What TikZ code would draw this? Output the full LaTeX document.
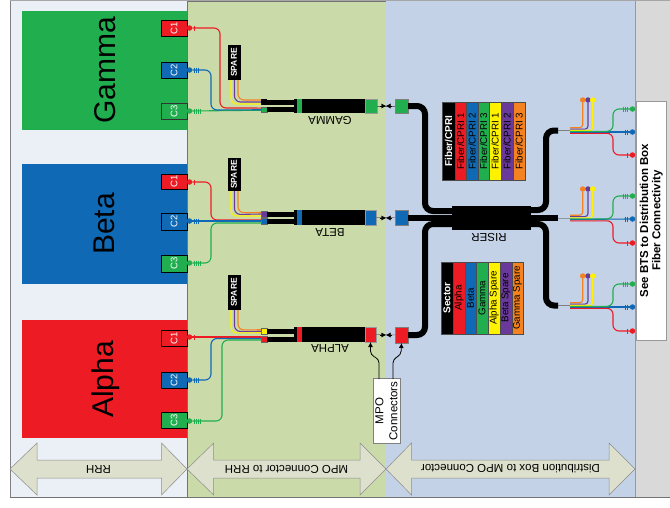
\documentclass[tikz,border=0pt]{standalone}
\usepackage{fontspec}
\setmainfont{Liberation Sans}
\usetikzlibrary{arrows.meta,calc}
\definecolor{fred}{HTML}{ED1C24}
\definecolor{fblue}{HTML}{0F69B4}
\definecolor{fgreen}{HTML}{21AE4F}
\definecolor{fyellow}{HTML}{FFF200}
\definecolor{fpurple}{HTML}{6A3A9A}
\definecolor{forange}{HTML}{F58220}
\definecolor{regA}{HTML}{EBEFF6}
\definecolor{regB}{HTML}{CBDAA9}
\definecolor{regC}{HTML}{C3D2E6}
\definecolor{regD}{HTML}{D9D9D9}
\definecolor{arrowfill}{HTML}{DDE0CC}
\newcommand\fsz[1]{\fontsize{#1}{#1}\selectfont}
\newcommand\bx[7]{% name x1 y1 x2 y2 style text
  \pgfmathsetmacro\mycx{(#2+#4)/2}\pgfmathsetmacro\mycy{(#3+#5)/2}%
  \pgfmathsetmacro\myww{#4-#2}\pgfmathsetmacro\myhh{#5-#3}%
  \node[inner sep=0pt,outer sep=0pt,minimum width=\myww pt,minimum height=\myhh pt,#6] (#1) at (\mycx,\mycy) {#7};}
\newcommand\lplug[4]{% name y colour n
  \foreach \k in {1,...,#4}{\draw[#3,line width=.8pt] ({192+2.2*\k},#2-2.5) -- ({192+2.2*\k},#2+2.5);}
  \node[dotn,fill=#3] (#1) at (189.5,#2) {};}
\newcommand\rplug[4]{%
  \foreach \k in {1,...,#4}{\draw[#3,line width=.8pt] ({630-2.2*\k},#2-2.5) -- ({630-2.2*\k},#2+2.5);}
  \node[dotn,fill=#3] (#1) at (632.5,#2) {};}
\newcommand\chip[6]{% name y1 y2 fill border text
  \bx{#1}{161}{#2}{187}{#3}{fill=#4,draw=#5,line width=1pt,text=white}{\rotatebox{90}{\fsz{9.5}#6}}}
\newcommand\spare[3]{\bx{#1}{227.5}{#2}{240.5}{#3}{fill=black,text=white}{\rotatebox{90}{\fsz{8.5}\bfseries SPARE}}}
\newcommand\fan[7]{% prefix conn-colour yc dots-y green-y blue-y red-y
  \node[dotn,fill=forange] (#1do) at (582.7,#4) {};
  \node[dotn,fill=fpurple] (#1dp) at (588,#4) {};
  \node[dotn,fill=fyellow] (#1dy) at (592.7,#4) {};
  \rplug{#1dg}{#5}{fgreen}{3}
  \rplug{#1db}{#6}{fblue}{2}
  \rplug{#1dr}{#7}{fred}{1}
  \bx{#1C}{558}{#3-3.7}{570}{#3+3.7}{fill=#2,draw=black!50,line width=.4pt}{}
  \draw[fib,forange,rounded corners=3pt] ([yshift=2.8pt]#1C.east) -| (#1do);
  \draw[fib,fpurple,rounded corners=3pt] ([yshift=1.4pt]#1C.east) -| (#1dp);
  \draw[fib,fyellow,rounded corners=3pt] ([yshift=0pt]#1C.east) -| (#1dy);
  \draw[fib,fblue] ([yshift=-1.5pt]#1C.east) -- (#1db.west |- {0,#6}) -- (#1db);
  \draw[fib,fgreen,rounded corners=6pt] ([yshift=-.8pt]#1C.east) -- (613,#3+.8) -- (613,#5) -- (#1dg);
  \draw[fib,fred,rounded corners=6pt] ([yshift=-2.8pt]#1C.east) -- (613,#3+2.8) -- (613,#7) -- (#1dr);}
\newcommand\dbl[7]{% name x1 x2 hx1 hx2 text
  \filldraw[fill=arrowfill,draw=black!45,line width=.5pt] (#2,469) -- (#4,443) -- (#4,460) -- (#5,460) -- (#5,443) -- (#3,469) -- (#5,495) -- (#5,478) -- (#4,478) -- (#4,495) -- cycle;
  \node[rotate=180,inner sep=0pt] (#1) at ({(#2+#3)/2},469) {\fsz{11.5}#6};}
\newcommand\legcol[6]{% name x1 x2 y1 y2 fill
  \bx{#1}{#2}{#4}{#3}{#5}{fill=#6,draw=black!70,line width=.6pt}{}}
\tikzset{
  dotn/.style={circle,inner sep=0pt,outer sep=0pt,minimum size=5.5pt},
  fib/.style={line width=1.1pt},
  rib/.style={line width=5pt,black},
  riserline/.style={line width=6pt,black,rounded corners=8pt},
  lbl/.style={rotate=180,inner sep=0pt},
  bigname/.style={rotate=90,anchor=base,inner sep=0pt,font=\fsz{30}},
  junct/.style={line width=.5pt,black!60},
  tipto/.style={-{Latex[length=4.5pt,width=5pt]},black},
}
\begin{document}
\begin{tikzpicture}[x=1pt,y=-1pt]
\useasboundingbox (0,0) rectangle (670,507);
\fill[white] (0,0) rectangle (670,507);
% regions
\bx{regrrh}{10}{1}{187}{497}{fill=regA}{}
\bx{regmpo}{187}{1}{386}{497}{fill=regB,draw=black!55,line width=.5pt}{}
\bx{regdist}{386}{1}{635}{497}{fill=regC}{}
\bx{regbts}{635}{1}{670}{497}{fill=regD}{}
\draw[black!55,line width=.7pt] (10,497) -- (670,497);
\draw[black!35,line width=.8pt] (10,.6) -- (670,.6);
\draw[black!50,line width=.6pt] (10,1) -- (10,497);
\draw[black!40,line width=.5pt] (635,1) -- (635,497);
% RRH blocks
\bx{gamma}{22}{10.5}{187}{129.5}{fill=fgreen}{}
\bx{beta}{22}{164}{187}{284}{fill=fblue}{}
\bx{alpha}{22}{320}{187}{438}{fill=fred}{}
\node[bigname] (gammaL) at (115,70) {Gamma};
\node[bigname] (betaL) at (114,224) {Beta};
\node[bigname] (alphaL) at (113.5,379.5) {Alpha};
\chip{gC1}{20}{36}{fred}{black}{C1}
\chip{gC2}{62}{78}{fblue}{black}{C2}
\chip{gC3}{103}{119}{fgreen}{black!80}{C3}
\chip{bC1}{174}{189}{fred}{black}{C1}
\chip{bC2}{213}{230}{fblue}{black}{C2}
\chip{bC3}{255}{272}{fgreen}{black}{C3}
\chip{aC1}{330}{346}{fred}{black}{C1}
\chip{aC2}{372}{388}{fblue}{black}{C2}
\chip{aC3}{412}{428}{fgreen}{black}{C3}
% spare boxes
\spare{gS}{45}{80}
\spare{bS}{158}{191}
\spare{aS}{275}{310}
% cable assemblies
\bx{gT}{261}{99}{267}{105}{fill=black}{}
\bx{gB}{261}{107}{267}{112.5}{fill=fgreen,draw=black!60,line width=.4pt}{}
\bx{gM}{294}{99}{377}{113}{fill=black}{}
\bx{gM1}{297}{99}{302}{113}{fill=fgreen}{}
\bx{gM2}{365}{99}{377}{113}{fill=fgreen,draw=black!40,line width=.4pt}{}
\node[lbl] (gL) at (330,120.5) {\fsz{11.5}GAMMA};
\bx{bT}{261}{211}{267}{217}{fill=fpurple,draw=black!60,line width=.4pt}{}
\bx{bB}{261}{218}{267}{224}{fill=fblue,draw=black!60,line width=.4pt}{}
\bx{bM}{294}{210}{376}{225}{fill=black}{}
\bx{bM1}{297}{210}{302}{225}{fill=fblue}{}
\bx{bM2}{365}{210}{376}{225}{fill=fblue,draw=black!40,line width=.4pt}{}
\node[lbl] (bL) at (330,232) {\fsz{11.5}BETA};
\bx{aT}{261}{328.5}{267}{334}{fill=fyellow,draw=black!60,line width=.4pt}{}
\bx{aB}{261}{336}{267}{342}{fill=fred,draw=black!60,line width=.4pt}{}
\bx{aM}{294}{327}{376}{342}{fill=black}{}
\bx{aM1}{297}{327}{302}{342}{fill=fred}{}
\bx{aM2}{365}{327}{376}{342}{fill=fred,draw=black!40,line width=.4pt}{}
\node[lbl] (aL) at (330,348.5) {\fsz{11.5}ALPHA};
\draw[rib] (gT.east) -- (gT.east -| gM.west);
\draw[rib] (gB.east) -- (gB.east -| gM.west);
\draw[rib] (bT.east) -- (bT.east -| bM.west);
\draw[rib] (bB.east) -- (bB.east -| bM.west);
\draw[rib] (aT.east) -- (aT.east -| aM.west);
\draw[rib] (aB.east) -- (aB.east -| aM.west);
% left plugs
\lplug{gd1}{28}{fred}{1}
\lplug{gd2}{70}{fblue}{3}
\lplug{gd3}{111}{fgreen}{4}
\lplug{bd1}{182}{fred}{1}
\lplug{bd2}{221}{fblue}{3}
\lplug{bd3}{263}{fgreen}{4}
\lplug{ad1}{337}{fred}{1}
\lplug{ad2}{380}{fblue}{3}
\lplug{ad3}{421}{fgreen}{4}
% gamma fibres
\draw[fib,fgreen] (gd3) -- ([yshift=-.5pt]gB.west);
\draw[fib,fblue,rounded corners=6pt] (gd2) -- (211,70) -- (211,110) -- ([yshift=0pt]gB.west);
\draw[fib,fred,rounded corners=6pt] (gd1) -- (220,28) -- (220,108) -- ([yshift=1.7pt]gB.west);
\draw[fib,fyellow,rounded corners=6pt] ([xshift=-3pt]gS.south) -- (231,104) -- ([yshift=-2pt]gT.west);
\draw[fib,fpurple,rounded corners=6pt] ([xshift=.5pt]gS.south) -- (234.5,102) -- (gT.west);
\draw[fib,forange,rounded corners=6pt] ([xshift=4pt]gS.south) -- (238,100) -- ([yshift=2pt]gT.west);
% beta fibres
\draw[fib,fred,rounded corners=6pt] (bd1) -- (211,182) -- (211,220) -- ([yshift=1pt]bB.west);
\draw[fib,fblue] (bd2) -- (bB.west);
\draw[fib,fgreen,rounded corners=6pt] (bd3) -- (211,263) -- (211,223) -- ([yshift=-2pt]bB.west);
\draw[fib,fyellow,rounded corners=6pt] ([xshift=-3pt]bS.south) -- (231,216) -- ([yshift=-2pt]bT.west);
\draw[fib,fpurple,rounded corners=6pt] ([xshift=.5pt]bS.south) -- (234.5,214.5) -- (bT.west);
\draw[fib,forange,rounded corners=6pt] ([xshift=4pt]bS.south) -- (238,212.7) -- ([yshift=1.5pt]bT.west);
% alpha fibres
\draw[fib,fred] (ad1) -- ([yshift=2pt]aB.west);
\draw[fib,fblue,rounded corners=6pt] (ad2) -- (211,380) -- (211,338.5) -- ([yshift=.5pt]aB.west);
\draw[fib,fgreen,rounded corners=6pt] (ad3) -- (222,421) -- (222,340) -- ([yshift=-1pt]aB.west);
\draw[fib,fyellow,rounded corners=6pt] ([xshift=-3pt]aS.south) -- (231,333) -- ([yshift=-1.5pt]aT.west);
\draw[fib,fpurple,rounded corners=6pt] ([xshift=.5pt]aS.south) -- (234.5,331.5) -- (aT.west);
\draw[fib,forange,rounded corners=6pt] ([xshift=4pt]aS.south) -- (238,330) -- ([yshift=1.5pt]aT.west);
% riser
\bx{riser}{452}{206}{531}{230}{fill=black}{}
\node[lbl] (riserL) at (489,237) {\fsz{11.5}RISER};
\bx{gR}{395}{99}{408}{113}{fill=fgreen,draw=black!50,line width=.4pt}{}
\bx{bR}{395}{210.5}{408}{225}{fill=fblue,draw=black!50,line width=.4pt}{}
\bx{aR}{395}{327}{408}{343}{fill=fred,draw=black!50,line width=.4pt}{}
\draw[riserline] (gR.east) -- (425,106) -- (425,211) -- (452,211);
\draw[riserline] (bR.east) -- (riser.west |- bR.east);
\draw[riserline] (aR.east) -- (425,335) -- (425,224) -- (452,224);
% junctions
\coordinate (gJ) at (386,106);
\coordinate (bJ) at (386,218);
\coordinate (aJ) at (386,335);
\draw[junct] (gM.east) -- (gR.west);
\draw[junct] (bM.east) -- (bR.west);
\draw[junct] (aM.east) -- (aR.west);
\draw[tipto] ([xshift=-6pt]gJ) -- (gJ);
\draw[tipto] ([xshift=6pt]gJ) -- (gJ);
\draw[tipto] ([xshift=-6pt]bJ) -- (bJ);
\draw[tipto] ([xshift=6pt]bJ) -- (bJ);
\draw[tipto] ([xshift=-6pt]aJ) -- (aJ);
\draw[tipto] ([xshift=6pt]aJ) -- (aJ);
% right fan-outs
\fan{gf}{fgreen}{130.5}{100}{109}{132}{155}
\fan{bf}{fblue}{218}{189}{196}{219}{243}
\fan{af}{fred}{305.5}{276}{284}{307}{331}
\draw[riserline] (gfC.west) -- (546,130.5) -- (546,210) -- (531,210);
\draw[riserline] (bfC.west) -- (riser.east |- bfC.west);
\draw[riserline] (afC.west) -- (546,305.5) -- (546,224) -- (531,224);
% legends
\legcol{la0}{442}{455}{102}{180}{black}
\legcol{la1}{455}{466}{102}{180}{fred}
\legcol{la2}{466}{478}{102}{180}{fblue}
\legcol{la3}{478}{489}{102}{180}{fgreen}
\legcol{la4}{489}{501}{102}{180}{fyellow}
\legcol{la5}{501}{513}{102}{180}{fpurple}
\legcol{la6}{513}{525}{102}{180}{forange}
\node[rotate=90,inner sep=0pt,text=white] (lat0) at (la0) {\fsz{10}\bfseries Fiber/CPRI};
\node[rotate=90,inner sep=0pt] (lat1) at (la1) {\fsz{9.8}Fiber/CPRI 1};
\node[rotate=90,inner sep=0pt] (lat2) at (la2) {\fsz{9.8}Fiber/CPRI 2};
\node[rotate=90,inner sep=0pt] (lat3) at (la3) {\fsz{9.8}Fiber/CPRI 3};
\node[rotate=90,inner sep=0pt] (lat4) at (la4) {\fsz{9.8}Fiber/CPRI 1};
\node[rotate=90,inner sep=0pt] (lat5) at (la5) {\fsz{9.8}Fiber/CPRI 2};
\node[rotate=90,inner sep=0pt] (lat6) at (la6) {\fsz{9.8}Fiber/CPRI 3};
\legcol{lb0}{441}{453}{262}{334}{black}
\legcol{lb1}{453}{465}{262}{334}{fred}
\legcol{lb2}{465}{476}{262}{334}{fblue}
\legcol{lb3}{476}{488}{262}{334}{fgreen}
\legcol{lb4}{488}{500}{262}{334}{fyellow}
\legcol{lb5}{500}{512}{262}{334}{fpurple}
\legcol{lb6}{512}{523}{262}{334}{forange}
\node[rotate=90,inner sep=0pt,text=white] (lbt0) at (lb0) {\fsz{10}\bfseries Sector};
\node[rotate=90,inner sep=0pt] (lbt1) at (lb1) {\fsz{9.8}Alpha};
\node[rotate=90,inner sep=0pt] (lbt2) at (lb2) {\fsz{9.8}Beta};
\node[rotate=90,inner sep=0pt] (lbt3) at (lb3) {\fsz{9.8}Gamma};
\node[rotate=90,inner sep=0pt] (lbt4) at (lb4) {\fsz{9.8}Alpha Spare};
\node[rotate=90,inner sep=0pt] (lbt5) at (lb5) {\fsz{9.8}Beta Spare};
\node[rotate=90,inner sep=0pt] (lbt6) at (lb6) {\fsz{9.8}Gamma Spare};
% MPO callout
\bx{mpo}{373}{378.5}{400}{443}{fill=white,draw=black!50,line width=.5pt}{}
\node[rotate=90,inner sep=0pt] (mpo1) at (379.5,411) {\fsz{11.5}MPO};
\node[rotate=90,inner sep=0pt] (mpo2) at (393.5,411) {\fsz{11.5}Connectors};
\draw[line width=.8pt,-{Latex[length=5pt,width=5pt]},rounded corners=4pt] (379,379) -- (379,359) -- (370.5,355) -- (aM2.south);
\draw[line width=.8pt,-{Latex[length=5pt,width=5pt]},rounded corners=4pt] (393,379) -- (393,359) -- (401,355) -- (aR.south);
% BTS note
\bx{bts}{636}{101}{666}{340}{fill=white,draw=black!40,line width=.4pt}{}
\node[rotate=90,inner sep=0pt] (bts1) at (644,220.5) {\fsz{11.5}\bfseries See BTS to Distribution Box};
\node[rotate=90,inner sep=0pt] (bts2) at (657.5,220.5) {\fsz{11.5}\bfseries Fiber Connectivity};
% bottom arrows
\dbl{arr1}{10}{187}{37}{161.5}{RRH}{}
\dbl{arr2}{187}{386}{213.7}{360}{MPO Connector to RRH}{}
\dbl{arr3}{386}{635}{411.5}{609}{Distribution Box to MPO Connector}{}
\end{tikzpicture}
\end{document}
